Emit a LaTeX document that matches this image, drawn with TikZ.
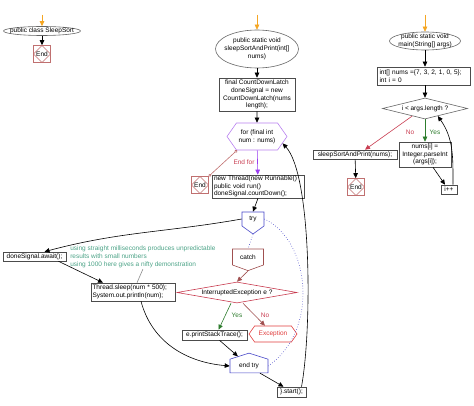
\documentclass[tikz,border=0pt]{standalone}
\usepackage{fontspec}
\setmainfont{Liberation Sans}
\usetikzlibrary{shapes.geometric,shapes.symbols,arrows.meta,calc}

\definecolor{forviolet}{HTML}{B77FEF}
\definecolor{arrviolet}{HTML}{9A3CF0}
\definecolor{endred}{HTML}{C07070}
\definecolor{tryblue}{HTML}{4848C8}
\definecolor{catchred}{HTML}{A05050}
\definecolor{excred}{HTML}{E03C3C}
\definecolor{yesgreen}{HTML}{2E7D2E}
\definecolor{nored}{HTML}{C83C50}
\definecolor{notegreen}{HTML}{4CA387}
\definecolor{startorange}{HTML}{F5A623}

\begin{document}
\begin{tikzpicture}[x=1pt,y=-1pt,line width=0.6pt,
    every node/.style={font=\fontsize{6.5}{7.8}\selectfont, inner sep=1pt},
    ell/.style={ellipse, draw=black!60, inner sep=0pt},
    box/.style={draw=black!70, rectangle},
    hexa/.style={signal, signal to=east and west, signal pointer angle=110, inner sep=0.5pt},
    tryblock/.style={signal, signal from=nowhere, draw=tryblue, inner sep=0.5pt},
    endnode/.style={draw=endred, minimum width=17pt, minimum height=17pt, inner sep=0pt,
      path picture={\draw[endred] (path picture bounding box.north) -- (path picture bounding box.east)
        -- (path picture bounding box.south) -- (path picture bounding box.west) -- cycle;}},
    arr/.style={-{Triangle[length=5pt,width=4.5pt]}},
    startarr/.style={arr, draw=startorange, fill=startorange}]
  \useasboundingbox (0,0) rectangle (474,406);

  \coordinate (s1) at (42,15);
  \node[ell, minimum width=77pt, minimum height=9pt, label=center:{public class SleepSort}] (cls) at (42,31) {};
  \node[endnode] (end1) at (42,54) {End};

  \coordinate (s2) at (257,15);
  \node[ell, minimum width=83pt, minimum height=38pt,
    label={[align=center]center:{public static void\\sleepSortAndPrint(int[]\\nums)}}] (ssp) at (257,49) {};
  \node[box, minimum width=76pt, minimum height=33pt, align=center] (latch) at (257,94.5) {final CountDownLatch\\doneSignal = new\\CountDownLatch(nums\\length);};
  \node[hexa, draw=forviolet, minimum width=60pt, minimum height=27pt, align=center] (for) at (257,136.5) {for (final int\\num : nums)};
  \node[text=nored] (endfor) at (244,162) {End for};
  \node[endnode] (end2) at (200,185) {End};
  \node[box, text width=88pt, inner xsep=2pt, inner ysep=0.5pt, minimum height=23pt, align=left] (thr) at (258,186.5) {new Thread(new Runnable()\\public void run()\\doneSignal.countDown();};
  \node[tryblock, signal to=south, signal pointer angle=108, minimum width=22pt, minimum height=17pt] (try) at (253,219) {try};
  \node[box, minimum width=63pt, minimum height=9pt] (await) at (34.5,256.5) {doneSignal.await();};
  \node[text=notegreen, align=left, anchor=west] (note) at (69,257) {using straight milliseconds produces unpredictable\\results with small numbers\\using 1000 here gives a nifty demonstration};
  \node[box, text width=81pt, inner xsep=1.5pt, minimum height=18pt, align=left] (sleep) at (133,292) {Thread.sleep(num * 500);\\System.out.println(num);};
  \node[tryblock, draw=catchred, signal to=south, signal pointer angle=140, minimum width=31pt, minimum height=19pt] (catch) at (248,257) {catch};
  \node[diamond, draw=nored, aspect=5.7, inner sep=0pt, minimum width=120pt, minimum height=21pt] (iex) at (237,292.5) {InterruptedException e ?};
  \node[text=yesgreen] (yes1) at (237,315) {Yes};
  \node[text=nored] (no1) at (265,315) {No};
  \node[box, minimum width=65pt, minimum height=10pt] (trace) at (214.5,335) {e.printStackTrace();};
  \node[hexa, draw=excred, text=excred, minimum width=48pt, minimum height=16pt] (exc) at (273,334) {Exception};
  \node[tryblock, signal to=north, signal pointer angle=145, minimum width=38pt, minimum height=17pt] (endtry) at (249,366) {end try};
  \node[box, minimum width=29pt, minimum height=10pt] (start) at (291.5,392) {\}.start();};

  \coordinate (s3) at (425,15);
  \node[ell, minimum width=71pt, minimum height=18pt,
    label={[align=center]center:{public static void\\main(String[] args)}}] (main) at (425,41) {};
  \node[box, text width=89pt, inner xsep=2pt, minimum height=18pt, align=left] (init) at (424,76) {int[] nums =\{7, 3, 2, 1, 0, 5\};\\int i = 0};
  \node[diamond, draw=black!60, aspect=4, inner sep=0pt, minimum width=85pt, minimum height=21pt] (cond) at (425,108.5) {i < args.length ?};
  \node[text=nored] (no2) at (410,132) {No};
  \node[text=yesgreen] (yes2) at (435,132) {Yes};
  \node[box, minimum width=52pt, minimum height=25pt, align=center] (parse) at (425,154.5) {nums[i] =\\Integer.parseInt\\(args[i]);};
  \node[box, minimum width=84pt, minimum height=9pt] (call) at (355,154.5) {sleepSortAndPrint(nums);};
  \node[endnode] (end3) at (356,187) {End};
  \node[box, minimum width=16pt, minimum height=9pt] (inc) at (449,189.5) {i++};

  \draw[startarr] (s1) -- (cls);
  \draw[arr] (cls) -- (end1);

  \draw[startarr] (s2) -- (ssp);
  \draw[arr] (ssp) -- (latch);
  \draw[arr] (latch) -- (for);
  \draw[arr, arrviolet] (for) -- (thr);
  \draw[endred, {Circle[open,length=3pt]}-{Circle[open,length=3pt]}] ($(for.south)+(-20,0)$) -- (end2.north east);
  \draw[arr] (thr.south) -- (try.north);
  \draw[arr] (try.west) to[out=190,in=15] ([xshift=10pt]await.north);
  \draw[arr] ([xshift=24pt]await.south) -- ([xshift=-30pt]sleep.north);
  \draw[black!45] (note.south) -- ([xshift=4pt]sleep.north);
  \draw[dotted, tryblue] (try.south) -- (catch.north);
  \draw[dotted, tryblue] (try.east) .. controls (310,240) and (320,330) .. (endtry.east);
  \draw[arr, catchred] (catch.south) -- (iex.north);
  \draw[arr, yesgreen] ([xshift=-6pt]iex.south) -- ([xshift=4pt]trace.north);
  \draw[arr, catchred] ([xshift=6pt]iex.south) -- ([xshift=-8pt]exc.north);
  \draw[arr] ([xshift=5pt]trace.south) -- (endtry);
  \draw[arr] ([xshift=8pt]sleep.south) to[out=-75,in=175] (endtry.west);
  \draw[arr] ([xshift=11pt]endtry.south) -- ([xshift=-8pt]start.north);
  \draw[arr] ([xshift=10pt]start.north) .. controls (312,330) and (312,175) .. (for.-15);

  \draw[startarr] (s3) -- (main);
  \draw[arr] (main.south) -- (main.south |- init.north);
  \draw[arr] (init.south -| cond.north) -- (cond.north);
  \draw[arr, yesgreen] (cond.south) -- (parse.north);
  \draw[arr, nored] ($(cond.south)!0.3!(cond.west)$) -- ([xshift=10pt]call.north);
  \draw[arr] (call) -- (end3);
  \draw[arr] ([xshift=8pt]parse.south) -- ([xshift=-4pt]inc.north);
  \draw[arr] ([xshift=4pt]inc.north) to[out=90,in=-55] ($(cond.south)!0.3!(cond.east)$);
\end{tikzpicture}
\end{document}
